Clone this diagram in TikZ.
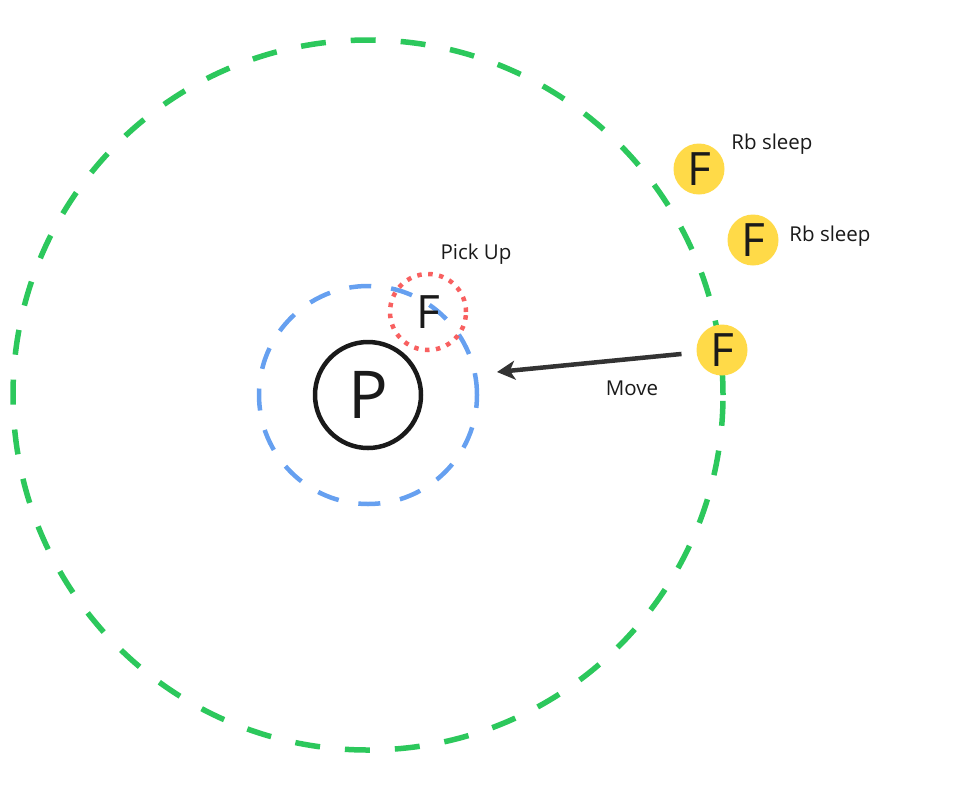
\documentclass[tikz,border=0pt]{standalone}
\usepackage{fontspec}
\setmainfont{Open Sans}
\usetikzlibrary{arrows.meta}
\definecolor{rbgreen}{RGB}{44,200,92}
\definecolor{pkblue}{RGB}{102,160,240}
\definecolor{pkred}{RGB}{248,96,96}
\definecolor{fyellow}{RGB}{255,218,72}
\definecolor{ink}{RGB}{26,26,26}
\definecolor{arrowgray}{RGB}{51,51,51}
\begin{document}
\begin{tikzpicture}[x=1pt,y=-1pt,>={Stealth[length=18pt,width=19pt,inset=5pt]},line join=round,
	food/.style={circle,fill=fyellow,minimum size=51pt,inner sep=0pt,text=ink,font=\fontsize{46}{46}\selectfont},
	lbl/.style={text=ink,font=\fontsize{20.5}{24}\selectfont}]
	\useasboundingbox (0,0) rectangle (976,785);
	\path (368,395) coordinate (O);
	%Vòng ngoài
	\draw[rbgreen,line width=5.5pt,dash pattern=on 25pt off 25pt] (O) circle (355pt);
	%Vòng trong
	\draw[pkblue,line width=4.5pt,dash pattern=on 22pt off 20pt] (O) circle (109pt);
	\node[circle,draw=ink,line width=4.5pt,minimum size=106pt,inner sep=0pt,text=ink,font=\fontsize{66}{66}\selectfont] (P) at (O) {P};
	%Nhặt
	\node[circle,draw=pkred,line width=4.5pt,dash pattern=on 4.5pt off 6.5pt,minimum size=76pt,inner sep=0pt,text=ink,font=\fontsize{46}{46}\selectfont] (Fpick) at (428,312) {F};
	\node[lbl] (lblpick) at (476,254) {Pick Up};
	%Các F bên ngoài
	\node[food] (F1) at (699,169) {F};
	\node[food] (F2) at (753,240) {F};
	\node[food] (F3) at (722,350) {F};
	\node[lbl] (lblsleepa) at (772,144) {Rb sleep};
	\node[lbl] (lblsleepb) at (830,236) {Rb sleep};
	%Di chuyển
	\coordinate (tgt) at (497,372);
	\draw[->,arrowgray,line width=4.5pt,shorten <=15pt] (F3) -- (tgt);
	\node[lbl] (lblmove) at (632,388) {Move};
\end{tikzpicture}
\end{document}
